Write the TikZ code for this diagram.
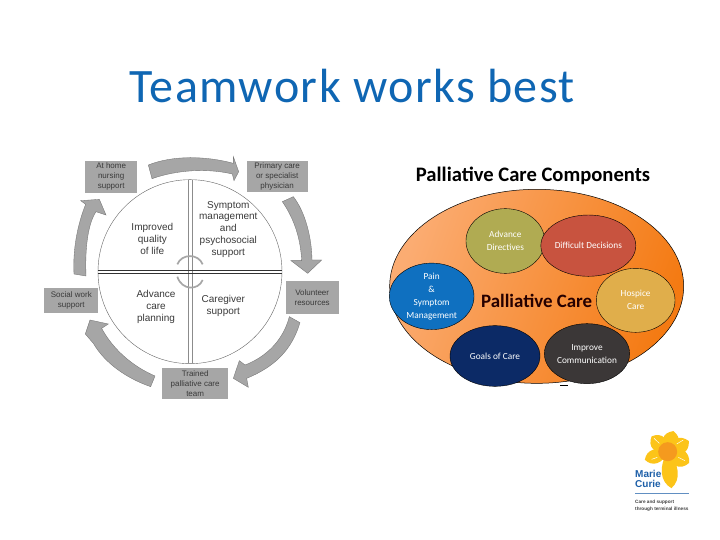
\documentclass[tikz,border=0pt]{standalone}
\usepackage{fontspec}
\setmainfont{Liberation Sans}
\newfontfamily\calfont{Carlito}
\newfontfamily\calspaced[LetterSpace=2.95]{Carlito}
\usetikzlibrary{shapes.geometric,calc}
\definecolor{boxgray}{HTML}{A6A6A6}
\definecolor{arrowgray}{HTML}{A6A6A6}
\definecolor{txtgray}{HTML}{3A3A3A}
\definecolor{titleblue}{HTML}{0F66B3}
\definecolor{mcblue}{HTML}{1D5FA8}
\definecolor{petal}{HTML}{FCC419}
\definecolor{corona}{HTML}{F59A1E}
\definecolor{bigA}{HTML}{FBAC72}
\definecolor{bigB}{HTML}{F47A12}
\definecolor{ovA}{HTML}{B0AB52}
\definecolor{ovB}{HTML}{C8533F}
\definecolor{ovC}{HTML}{0F70C0}
\definecolor{ovD}{HTML}{E0AE4B}
\definecolor{ovE}{HTML}{0C2A66}
\definecolor{ovF}{HTML}{3B3737}
\tikzset{
  greybox/.style={fill=boxgray,draw=none,inner sep=0pt,align=center,text=txtgray,font=\fontsize{8}{10}\selectfont},
  quadtext/.style={align=center,text=txtgray,inner sep=0pt,font=\fontsize{10}{11.8}\selectfont},
  blockarrow/.style={fill=arrowgray,draw=black!55,line width=0.35pt,line join=miter},
  oval/.style={ellipse,draw=black,line width=0.4pt,inner sep=0pt,align=center,text=white,font=\calfont\fontsize{9.3}{13}\selectfont},
  centerarc/.style={draw=black!35,line width=1.7pt},
  divider/.style={line width=0.7pt},
  coronaline/.style={draw=white,line width=0.5pt},
}
\newcommand{\zpetal}[3]{\fill[petal,shift={(143,97)},rotate=#1] (0,0) .. controls (0.35*#2,#3) and (0.8*#2,#3) .. (#2,0) .. controls (0.8*#2,-#3) and (0.35*#2,-#3) .. (0,0) -- cycle;}
\begin{document}
\begin{tikzpicture}[x=1pt,y=-1pt]
\useasboundingbox[fill=white] (0,0) rectangle (720,540);
\node[anchor=base west,inner sep=0pt,text=titleblue,font=\calspaced\fontsize{48}{48}\selectfont] (title) at (129,103) {Teamwork works best};

% ---- left diagram, in a scope with 3 units per pixel
\begin{scope}[shift={(30,140)},x=0.33333pt,y=-0.33333pt]
\node[circle,draw=black!60,line width=0.4pt,minimum size=184pt,inner sep=0pt] (ring) at (480,395) {};
\coordinate (hlw1) at (203,391); \coordinate (hle1) at (757,391);
\coordinate (hlw2) at (203,401); \coordinate (hle2) at (757,401);
\coordinate (vln1) at (474,120); \coordinate (vls1) at (474,670);
\coordinate (vln2) at (487,120); \coordinate (vls2) at (487,670);
\draw[divider,draw=black!45] (vln1) -- (vls1);
\draw[divider,draw=black!45] (vln2) -- (vls2);
\draw[divider,draw=black!80] (hlw1) -- (hle1);
\draw[divider,draw=black!80] (hlw2) -- (hle2);
\draw[centerarc] (442,373) .. controls (455,340) and (505,340) .. (518,373);
\draw[centerarc] (442,410) .. controls (455,452) and (505,452) .. (518,420);

\node[quadtext] (q1) at (367,297) {Improved\\quality\\of life};
\node[quadtext] (q2) at (595,268) {Symptom\\management\\and\\psychosocial\\support};
\node[quadtext] (q3) at (378,500) {Advance\\care\\planning};
\node[quadtext] (q4) at (580,497) {Caregiver\\support};

\node[greybox,minimum width=52.3pt,minimum height=32pt] (b1) at (243.5,110) {At home\\nursing\\support};
\node[greybox,minimum width=61pt,minimum height=31pt] (b2) at (741.5,108.5) {Primary care\\or specialist\\physician};
\node[greybox,minimum width=53pt,minimum height=32.7pt] (b3) at (846.5,472) {Volunteer\\resources};
\node[greybox,minimum width=66.3pt,minimum height=31.7pt] (b4) at (495.5,730.5) {Trained\\palliative care\\team};
\node[greybox,minimum width=54pt,minimum height=25pt] (b5) at (124,482.5) {Social work\\support};

% block arrows
\path[blockarrow] (355,75) .. controls (430,45) and (530,48) .. (610,70) -- (610,50) -- (626,95) -- (612,122) -- (607,102)
  .. controls (530,84) and (440,90) .. (366,116) -- cycle;
\path[blockarrow] (790,170) .. controls (825,215) and (845,290) .. (846,360) -- (875,360) -- (833,400) -- (783,362) -- (815,362)
  .. controls (812,300) and (795,240) .. (757,185) -- cycle;
\path[blockarrow] (810,548) .. controls (785,630) and (735,680) .. (650,715) -- (655,742) -- (610,715) -- (628,662) -- (645,675)
  .. controls (710,650) and (760,600) .. (778,530) -- cycle;
\path[blockarrow] (375,708) .. controls (310,680) and (250,630) .. (215,565) -- (235,552) -- (180,540) -- (166,582) -- (190,610)
  .. controls (225,670) and (290,715) .. (362,740) -- cycle;
\path[blockarrow] (168,408) .. controls (165,330) and (172,255) .. (198,215) -- (228,225) -- (208,178) -- (152,182) -- (167,193)
  .. controls (142,255) and (128,330) .. (132,402) -- cycle;
\end{scope}

% ---- right diagram
\begin{scope}[shift={(380,155)},x=0.33333pt,y=-0.33333pt]
\node[font=\calfont\bfseries\fontsize{20.6}{20.6}\selectfont,text=black,inner sep=0pt] (comp) at (459,62) {Palliative Care Components};
\node[ellipse,draw=black,line width=0.5pt,inner sep=0pt,minimum width=294pt,minimum height=194pt,
  left color=bigA,right color=bigB,shading angle=70] (big) at (470,394) {};
\node[font=\calfont\bfseries\fontsize{18.9}{18.9}\selectfont,text=black!85!red,inner sep=0pt] (pc) at (470,437) {Palliative Care};
\node[oval,fill=ovA,minimum width=78.7pt,minimum height=64.7pt] (n1) at (376,258) {Advance\\Directives};
\node[oval,fill=ovB,minimum width=76.7pt,minimum height=61.3pt] (n2) at (625,272) {Difficult Decisions};
\node[oval,fill=ovC,minimum width=84.7pt,minimum height=60.7pt] (n3) at (155,424) {Pain\\\&\\Symptom\\Management};
\node[oval,fill=ovD,minimum width=78.7pt,minimum height=64pt] (n4) at (767,436) {Hospice\\Care};
\node[oval,fill=ovE,minimum width=90pt,minimum height=60.7pt] (n5) at (345,603) {Goals of Care};
\node[oval,fill=ovF,minimum width=85.3pt,minimum height=60pt] (n6) at (621,596) {Improve\\Communication};
\coordinate (dashA) at (540,692); \coordinate (dashB) at (565,692);
\draw[line width=0.6pt] (dashA) -- (dashB);
\end{scope}

% ---- logo
\begin{scope}[shift={(620,420)},x=0.33333pt,y=-0.33333pt]
\zpetal{75}{66}{32}
\zpetal{28}{72}{32}
\zpetal{-26}{72}{34}
\zpetal{-84}{108}{32}
\zpetal{198}{72}{28}
\zpetal{135}{68}{32}
\node[circle,fill=corona,minimum size=19pt,inner sep=0pt] (cup) at (143,95) {};
\coordinate (l1a) at (170,72); \coordinate (l1b) at (190,60);
\coordinate (l2a) at (175,112); \coordinate (l2b) at (195,122);
\coordinate (l3a) at (112,112); \coordinate (l3b) at (95,118);
\coordinate (l4a) at (118,70); \coordinate (l4b) at (102,55);
\draw[coronaline] (l1a) -- (l1b);
\draw[coronaline] (l2a) -- (l2b);
\draw[coronaline] (l3a) -- (l3b);
\draw[coronaline] (l4a) -- (l4b);
\node[align=left,anchor=north west,inner sep=0pt,text=mcblue,font=\bfseries\fontsize{10}{10}\selectfont] (mc) at (45,150) {Marie\\Curie};
\coordinate (ruleA) at (45,220); \coordinate (ruleB) at (207,220);
\draw[mcblue!70,line width=0.4pt] (ruleA) -- (ruleB);
\node[align=left,anchor=north west,inner sep=0pt,text=black!75,font=\bfseries\fontsize{4.7}{6.5}\selectfont] (tag) at (45,240) {Care and support\\through terminal illness};
\end{scope}
\end{tikzpicture}
\end{document}
